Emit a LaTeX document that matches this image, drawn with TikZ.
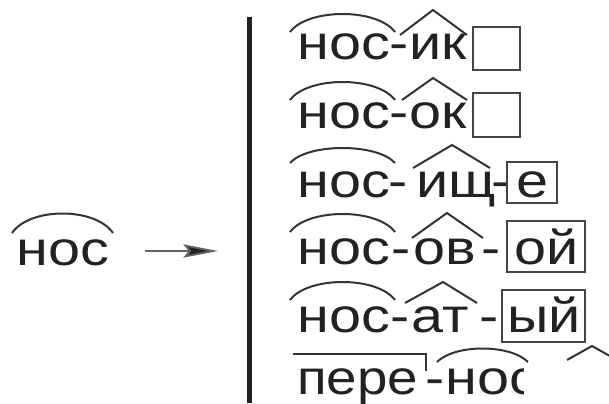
\documentclass[tikz,border=0pt]{standalone}
\usepackage{fontspec}
\setmainfont[FakeStretch=1.2]{Liberation Sans}
\usetikzlibrary{arrows.meta}
\definecolor{ink}{HTML}{222222}
\definecolor{arcink}{HTML}{333333}
\definecolor{boxink}{HTML}{444444}
\begin{document}
\begin{tikzpicture}[x=0.75pt,y=-0.75pt,
  word/.style={inner sep=0pt,anchor=base west,text=ink,font=\fontsize{36}{36}\selectfont},
  arcline/.style={draw=arcink,line width=1.5pt},
  caretline/.style={draw=arcink,line width=1.5pt,line join=miter},
  endbox/.style={draw=boxink,line width=2.2pt},
  bar/.style={draw=ink,line width=3.75pt},
  arrowline/.style={draw=ink!70,line width=1.4pt,-{Stealth[length=26pt,width=10pt,inset=4pt,fill=ink]}}
]
\useasboundingbox (0,0) rectangle (609,403);
% left word and arrow
\node[word] (src) at (16,265) {нос};
\draw[arcline] (12,233) .. controls (30,207) and (95,207) .. (113,233);
\coordinate (arrstart) at (145,251);
\coordinate (arrtip) at (218,251);
\draw[arrowline] (arrstart) -- (arrtip);
% vertical bar
\coordinate (bartop) at (249.5,17);
\coordinate (barbot) at (249.5,403);
\draw[bar] (bartop) -- (barbot);
% row 1
\node[word] (w1) at (297,60) {нос-ик};
\draw[arcline] (290,32) .. controls (308,8) and (377,8) .. (395,32);
\draw[caretline] (400,35) -- (433,10) -- (467,35);
\draw[endbox] (473,27) rectangle (520,70);
% row 2
\node[word] (w2) at (297,128) {нос-ок};
\draw[arcline] (290,100) .. controls (308,76) and (377,76) .. (395,100);
\draw[caretline] (402,100) -- (433,78) -- (467,100);
\draw[endbox] (473,93) rectangle (520,137);
% row 3
\node[word] (r3) at (297,197) {нос};
\node[word] (d3a) at (388,197) {-};
\node[word] (s3) at (416,197) {ищ};
\node[word] (d3b) at (491,197) {-};
\node[word] (e3) at (516,197) {е};
\draw[arcline] (290,163) .. controls (308,143) and (377,143) .. (395,163);
\draw[caretline] (413,168) -- (452,145) -- (490,168);
\draw[endbox] (507,162) rectangle (557,203);
% row 4
\node[word] (r4) at (297,264) {нос};
\node[word] (d4a) at (391,264) {-};
\node[word] (s4) at (413,264) {ов};
\node[word] (d4b) at (481,264) {-};
\node[word] (e4) at (514,264) {ой};
\draw[arcline] (290,232) .. controls (308,208) and (377,208) .. (395,232);
\draw[caretline] (412,238) -- (447,213) -- (483,238);
\draw[endbox] (507,221) rectangle (585,272);
% row 5
\node[word] (r5) at (297,332) {нос};
\node[word] (d5a) at (390,332) {-};
\node[word] (s5) at (411,332) {ат};
\node[word] (d5b) at (479,332) {-};
\node[word] (e5) at (507,332) {ый};
\draw[arcline] (290,300) .. controls (308,276) and (377,276) .. (395,300);
\draw[caretline] (405,303) -- (443,282) -- (477,303);
\draw[endbox] (502,290) rectangle (585,342);
% row 6
\node[word] (p6) at (297,394) {\scalebox{0.95}[1]{пере}};
\node[word] (d6) at (425,394) {-};
\begin{scope}
\clip (440,330) rectangle (523,403);
\node[word] (r6) at (445,394) {нос};
\end{scope}
\draw[caretline] (293,354) -- (426,354) -- (426,371);
\draw[arcline] (437,362) .. controls (455,344) and (510,344) .. (528,362);
\draw[caretline] (567,360) -- (592,346) -- (617,360);
\end{tikzpicture}
\end{document}
